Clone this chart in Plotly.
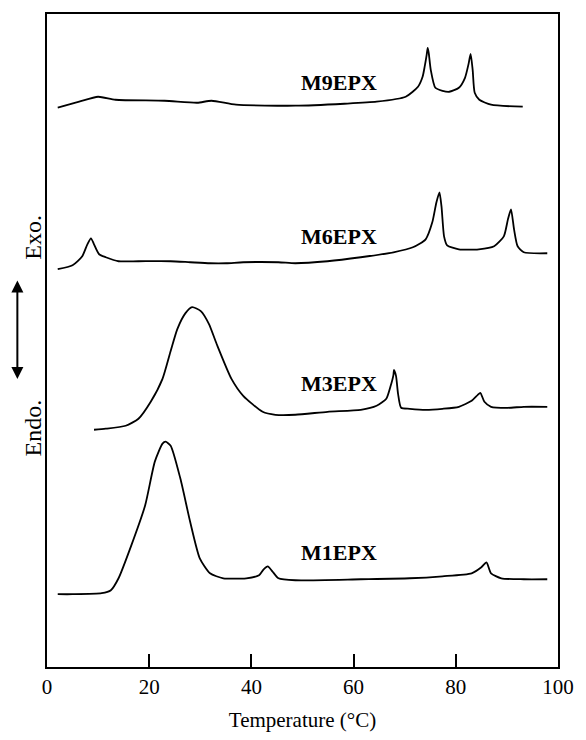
import plotly.graph_objects as go

# Temperatures (°C) and heat-flow signal (arbitrary units)
t_m9 = [2.1, 6.3, 10.0, 13.4, 23.0, 29.4, 32.2, 37.0, 48.6, 58.2, 64.5, 70.2, 72.6, 73.5, 73.9, 74.3, 74.5,
        74.7, 75.1, 76.0, 77.4, 78.7, 80.6, 81.8, 82.5, 82.9, 83.3, 83.7, 84.6, 86.9, 93.1]
s_m9 = [112.2, 113.4, 114.4, 113.8, 113.6, 113.2, 113.6, 112.8, 112.6, 113.0, 113.4, 114.4, 116.4, 118.4, 120.4,
        122.8, 124.2, 123.2, 119.8, 116.2, 115.6, 115.4, 116.2, 118.2, 121.0, 123.0, 119.8, 115.2, 113.8, 112.8, 112.4]

t_m6 = [2.1, 5.0, 6.9, 7.9, 8.6, 9.2, 10.2, 11.5, 14.0, 17.9, 24.2, 28.0, 31.9, 35.1, 38.4, 45.3, 48.6, 54.9,
        61.4, 67.8, 71.6, 74.1, 75.4, 76.2, 76.8, 77.2, 77.7, 78.3, 80.6, 84.5, 87.5, 89.4, 90.2, 90.8, 91.4,
        92.1, 93.3, 97.9]
s_m6 = [79.8, 80.6, 82.4, 84.8, 86.0, 84.8, 82.8, 82.2, 81.4, 81.4, 81.4, 81.2, 81.0, 81.0, 81.2, 81.2, 81.0,
        81.4, 82.2, 83.2, 84.2, 85.8, 89.2, 93.2, 95.2, 92.4, 86.4, 84.6, 83.8, 83.8, 84.4, 86.4, 89.8, 91.8,
        87.8, 84.4, 83.2, 83.0]

t_m3 = [9.2, 11.5, 15.4, 17.9, 20.3, 22.6, 24.2, 25.5, 27.1, 28.4, 30.1, 31.7, 33.2, 36.1, 38.4, 42.2, 44.7,
        48.6, 54.9, 61.4, 64.5, 66.4, 67.2, 67.8, 67.9, 68.3, 68.7, 69.3, 71.0, 74.1, 77.4, 80.6, 83.1, 84.3,
        84.8, 85.6, 86.9, 90.2, 93.3, 97.9]
s_m3 = [47.6, 47.8, 48.4, 49.8, 53.2, 57.8, 63.4, 67.8, 71.0, 72.2, 71.4, 68.8, 64.8, 57.8, 54.4, 51.2, 50.6,
        50.6, 51.2, 51.6, 52.4, 53.8, 56.2, 58.6, 59.6, 58.4, 54.8, 52.0, 51.8, 51.6, 51.8, 52.2, 53.4, 54.6,
        55.0, 53.2, 52.2, 52.0, 52.2, 52.2]

t_m1 = [2.1, 5.0, 10.7, 12.5, 14.0, 16.5, 19.2, 21.1, 22.6, 23.2, 24.2, 26.1, 28.0, 29.9, 31.9, 34.5, 39.0,
        41.5, 42.4, 43.2, 44.1, 45.3, 48.6, 61.4, 71.0, 77.4, 83.1, 85.0, 86.0, 86.9, 88.9, 93.3, 97.9]
s_m1 = [14.6, 14.6, 14.8, 15.4, 17.8, 24.4, 32.4, 41.2, 44.8, 45.2, 44.4, 37.8, 29.2, 21.8, 18.8, 17.8, 17.8,
        18.4, 19.6, 20.2, 19.2, 17.8, 17.4, 17.6, 17.8, 18.2, 18.8, 20.0, 21.0, 18.8, 17.8, 17.6, 17.6]

sample_names = ["M9EPX", "M6EPX", "M3EPX", "M1EPX"]
label_t = [57.2, 57.2, 57.2, 57.2]
label_s = [117.2, 86.4, 56.8, 23.0]

x_ticks = [0, 20, 40, 60, 80, 100]
x_title = "Temperature (°C)"

serif = "Liberation Serif, Times New Roman, serif"

fig = go.Figure()
for t, s in [(t_m9, s_m9), (t_m6, s_m6), (t_m3, s_m3), (t_m1, s_m1)]:
    fig.add_trace(go.Scatter(x=t, y=s, mode="lines",
                             line=dict(color="black", width=1.8, shape="spline", smoothing=0.6),
                             showlegend=False, hoverinfo="skip"))

for name, lt, ls in zip(sample_names, label_t, label_s):
    fig.add_annotation(x=lt, y=ls, text=f"<b>{name}</b>", showarrow=False,
                       font=dict(family=serif, size=22, color="black"))

# Y-axis label: Endo. <-> Exo.
fig.add_annotation(xref="paper", yref="paper", x=-0.056, y=0.658, text="Exo.", textangle=-90,
                   showarrow=False, font=dict(family=serif, size=24, color="black"))
fig.add_annotation(xref="paper", yref="paper", x=-0.056, y=0.366, text="Endo.", textangle=-90,
                   showarrow=False, font=dict(family=serif, size=24, color="black"))
fig.add_annotation(xref="paper", yref="paper", x=-0.058, y=0.592, ax=0, ay=100, text="",
                   showarrow=True, arrowside="end+start", arrowhead=2, arrowsize=1.2,
                   arrowwidth=2, arrowcolor="black")

fig.update_layout(
    width=586, height=740,
    margin=dict(l=47, r=18, t=14, b=71),
    paper_bgcolor="white", plot_bgcolor="white",
    xaxis=dict(range=[0, 100], tickvals=x_ticks, ticks="inside", ticklen=13, tickwidth=2,
               tickcolor="black", showline=True, linewidth=2, linecolor="black", mirror=True,
               showgrid=False, zeroline=False,
               tickfont=dict(family=serif, size=21, color="black"),
               title=dict(text=x_title, font=dict(family=serif, size=21, color="black"), standoff=14)),
    yaxis=dict(range=[0, 131], showticklabels=False, ticks="", showline=True, linewidth=2,
               linecolor="black", mirror=True, showgrid=False, zeroline=False),
)

fig.write_html("out.html")
